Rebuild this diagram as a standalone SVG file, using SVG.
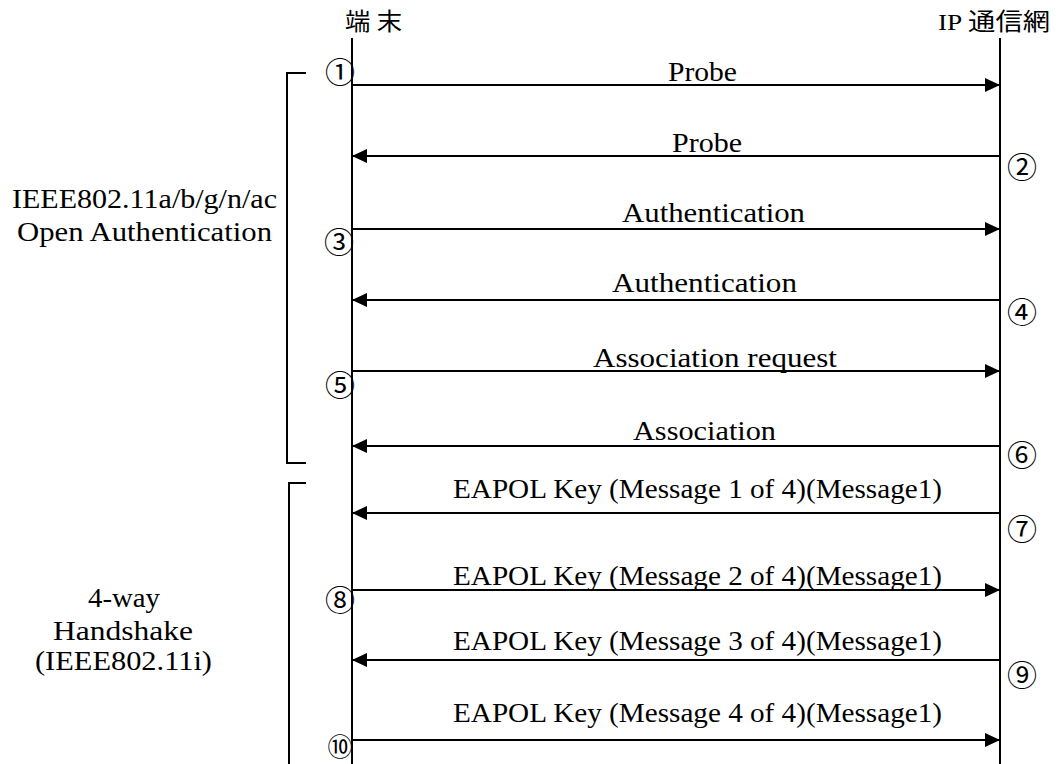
<svg xmlns="http://www.w3.org/2000/svg" width="1061" height="764" viewBox="0 0 1061 764">
<style>
.ln{stroke:#000;stroke-width:2;fill:none}
.msg{font-family:"Liberation Serif","DejaVu Serif","Noto Sans CJK JP",serif;font-size:28px;fill:#000}
.lbl{font-family:"Liberation Serif","DejaVu Serif","Noto Sans CJK JP",serif;font-size:28px;fill:#000;text-anchor:middle}
.hdr{font-family:"Liberation Serif","DejaVu Serif","Noto Sans CJK JP",serif;font-size:24px;fill:#000}
.num{font-family:"Noto Sans CJK JP",sans-serif;font-size:30px;fill:#000;text-anchor:middle;dominant-baseline:central}
</style>
<defs>
<marker id="ah" markerUnits="userSpaceOnUse" markerWidth="16" markerHeight="16" viewBox="0 0 16 16" refX="15" refY="8" orient="auto">
<path d="M0,1 L15,8 L0,15 Z" fill="#000"/>
</marker>
</defs>
<rect width="1061" height="764" fill="#fff"/>
<g id="lifeline-terminal">
<text class="hdr" x="345" y="30" textLength="57" lengthAdjust="spacingAndGlyphs">端 末</text>
<line class="ln" x1="352" y1="38" x2="352" y2="764"/>
</g>
<g id="lifeline-network">
<text class="hdr" x="1050" y="30" text-anchor="end" textLength="112" lengthAdjust="spacingAndGlyphs">IP 通信網</text>
<line class="ln" x1="1000" y1="38" x2="1000" y2="764"/>
</g>
<g id="bracket-open-auth">
<path class="ln" d="M306,73 H287 V463 H306"/>
<text class="lbl" x="144.5" y="208" textLength="265" lengthAdjust="spacingAndGlyphs">IEEE802.11a/b/g/n/ac</text>
<text class="lbl" x="144.5" y="241" textLength="255" lengthAdjust="spacingAndGlyphs">Open Authentication</text>
</g>
<g id="bracket-4way">
<path class="ln" d="M306,483 H289 V766"/>
<text class="lbl" x="124" y="607" textLength="72" lengthAdjust="spacingAndGlyphs">4-way</text>
<text class="lbl" x="123" y="640" textLength="140" lengthAdjust="spacingAndGlyphs">Handshake</text>
<text class="lbl" x="123.5" y="670" textLength="177" lengthAdjust="spacingAndGlyphs">(IEEE802.11i)</text>
</g>
<g id="connectors">
<line class="ln" x1="352" y1="85" x2="1000" y2="85" marker-end="url(#ah)"/>
<line class="ln" x1="1000" y1="156" x2="352" y2="156" marker-end="url(#ah)"/>
<line class="ln" x1="352" y1="229" x2="1000" y2="229" marker-end="url(#ah)"/>
<line class="ln" x1="1000" y1="300" x2="352" y2="300" marker-end="url(#ah)"/>
<line class="ln" x1="352" y1="371" x2="1000" y2="371" marker-end="url(#ah)"/>
<line class="ln" x1="1000" y1="446" x2="352" y2="446" marker-end="url(#ah)"/>
<line class="ln" x1="1000" y1="513" x2="352" y2="513" marker-end="url(#ah)"/>
<line class="ln" x1="352" y1="590" x2="1000" y2="590" marker-end="url(#ah)"/>
<line class="ln" x1="1000" y1="660" x2="352" y2="660" marker-end="url(#ah)"/>
<line class="ln" x1="352" y1="740" x2="1000" y2="740" marker-end="url(#ah)"/>
</g>
<g id="labels">
<text class="msg" x="668" y="81" textLength="69" lengthAdjust="spacingAndGlyphs">Probe</text>
<text class="msg" x="672" y="152" textLength="70" lengthAdjust="spacingAndGlyphs">Probe</text>
<text class="msg" x="622" y="222" textLength="183" lengthAdjust="spacingAndGlyphs">Authentication</text>
<text class="msg" x="612" y="292" textLength="185" lengthAdjust="spacingAndGlyphs">Authentication</text>
<text class="msg" x="593" y="367" textLength="244" lengthAdjust="spacingAndGlyphs">Association request</text>
<text class="msg" x="633" y="440" textLength="143" lengthAdjust="spacingAndGlyphs">Association</text>
<text class="msg" x="453" y="498" textLength="489" lengthAdjust="spacingAndGlyphs">EAPOL Key (Message 1 of 4)(Message1)</text>
<text class="msg" x="453" y="585" textLength="489" lengthAdjust="spacingAndGlyphs">EAPOL Key (Message 2 of 4)(Message1)</text>
<text class="msg" x="453" y="650" textLength="489" lengthAdjust="spacingAndGlyphs">EAPOL Key (Message 3 of 4)(Message1)</text>
<text class="msg" x="453" y="722" textLength="489" lengthAdjust="spacingAndGlyphs">EAPOL Key (Message 4 of 4)(Message1)</text>
</g>
<g id="step-numbers">
<text class="num" x="340" y="70">①</text>
<text class="num" x="1022" y="165">②</text>
<text class="num" x="339" y="240">③</text>
<text class="num" x="1022" y="310">④</text>
<text class="num" x="340" y="383">⑤</text>
<text class="num" x="1022" y="453">⑥</text>
<text class="num" x="1022" y="527">⑦</text>
<text class="num" x="340" y="598">⑧</text>
<text class="num" x="1022" y="673">⑨</text>
<text class="num" x="340" y="745" style="font-size:25px">⑩</text>
</g>
</svg>
